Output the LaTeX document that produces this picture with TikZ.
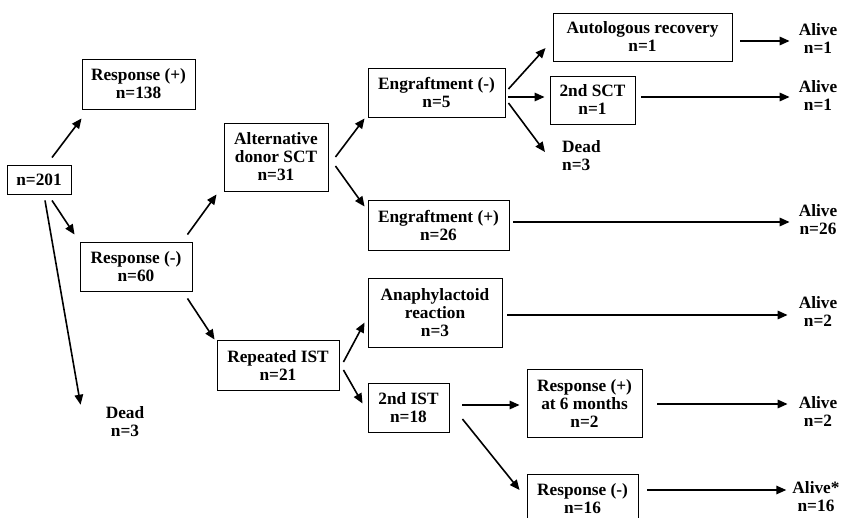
\documentclass[tikz,border=0pt]{standalone}
\usepackage{fontspec}
\setmainfont{Liberation Serif}
\usepackage{tikz}
\usetikzlibrary{arrows.meta,positioning,calc}

\begin{document}
\begin{tikzpicture}[
  x=1pt,y=-1pt,
  font=\fontsize{17.3}{18}\selectfont\bfseries,
  box/.style={draw,line width=0.9pt,align=center,inner sep=2pt},
  lbl/.style={align=center,inner sep=0pt},
  arr/.style={-{Triangle[length=10pt,width=8.5pt]},line width=1.6pt},
]
\useasboundingbox (0,0) rectangle (842,518);

% start
\node[box,minimum width=64pt,minimum height=29pt] (n201) at (39,179.5) {n=201};

% first IST
\node[box,minimum width=113pt,minimum height=50pt] (resppos) at (138.5,84) {Response (+)\\n=138};
\node[box,minimum width=112pt,minimum height=49pt] (respneg) at (136,266.5) {Response (-)\\n=60};
\node[lbl] (dead1) at (125,422) {Dead\\n=3};

% alternative donor SCT branch
\node[box,minimum width=104pt,minimum height=68pt] (altdonor) at (276,157) {Alternative\\donor SCT\\n=31};
\node[box,minimum width=137pt,minimum height=49pt] (engneg) at (436.5,92.5) {Engraftment (-)\\n=5};
\node[box,minimum width=141pt,minimum height=50pt] (engpos) at (438.5,225) {Engraftment (+)\\n=26};
\node[box,minimum width=179pt,minimum height=48pt] (autol) at (642.5,37) {Autologous recovery\\n=1};
\node[box,minimum width=85pt,minimum height=48pt] (sct2) at (592.5,100) {2nd SCT\\n=1};
\node[lbl,align=left,anchor=west] (dead2) at (562,156) {Dead\\n=3};

% repeated IST branch
\node[box,minimum width=122pt,minimum height=50pt] (repist) at (278,365) {Repeated IST\\n=21};
\node[box,minimum width=134pt,minimum height=69pt] (anaph) at (435,312.5) {Anaphylactoid\\reaction\\n=3};
\node[box,minimum width=81pt,minimum height=49pt] (ist2) at (408.5,407.5) {2nd IST\\n=18};
\node[box,minimum width=115pt,minimum height=68pt] (resp6) at (584.5,403) {Response (+)\\at 6 months\\n=2};
\node[box,minimum width=111pt,minimum height=50pt] (resp16) at (582.5,499) {Response (-)\\n=16};

% outcomes
\node[lbl] (alive1) at (818,39) {Alive\\n=1};
\node[lbl] (alive2) at (818,95.5) {Alive\\n=1};
\node[lbl] (alive3) at (818,220) {Alive\\n=26};
\node[lbl] (alive4) at (818,311) {Alive\\n=2};
\node[lbl] (alive5) at (818,411) {Alive\\n=2};
\node[lbl] (alive6) at (816,496.5) {Alive*\\n=16};

% arrows
\draw[arr] ([xshift=13pt,yshift=7pt]n201.north) -- ([yshift=-9pt]resppos.south west);
\draw[arr] ([xshift=13pt,yshift=-6pt]n201.south) -- ([xshift=-5pt,yshift=7pt]respneg.north west);
\draw[arr] ([xshift=6pt,yshift=-6pt]n201.south) -- ([xshift=-25pt,yshift=2pt]dead1.north west);

\draw[arr] ([xshift=-5pt,yshift=7pt]respneg.north east) -- ([xshift=-7pt,yshift=-3pt]altdonor.south west);
\draw[arr] ([xshift=-5pt,yshift=-7pt]respneg.south east) -- ([xshift=-2pt]repist.north west);

\draw[arr] ([xshift=7pt]altdonor.east) -- ([xshift=-3pt,yshift=-1pt]engneg.south west);
\draw[arr] ([xshift=7pt,yshift=-9pt]altdonor.east) -- ([xshift=-3pt,yshift=-7pt]engpos.north west);

\draw[arr] ([xshift=3pt,yshift=3.5pt]engneg.east) -- ([xshift=-7pt,yshift=-11pt]autol.west);
\draw[arr] ([xshift=3pt,yshift=-4.5pt]engneg.east) -- ([xshift=-5pt,yshift=3pt]sct2.west);
\draw[arr] ([xshift=3pt,yshift=-10.5pt]engneg.east) -- ([xshift=-17pt,yshift=4pt]dead2.west);

\draw[arr,shorten >=9pt] ([xshift=8pt,yshift=-4pt]autol.east) -- ([yshift=-4pt]autol.east -| alive1.west);
\draw[arr,shorten >=9pt] ([xshift=6pt,yshift=3pt]sct2.east) -- ([yshift=3pt]sct2.east -| alive2.west);
\draw[arr,shorten >=9pt] ([xshift=4pt,yshift=3pt]engpos.east) -- ([yshift=3pt]engpos.east -| alive3.west);

\draw[arr] ([xshift=4pt,yshift=3pt]repist.east) -- ([xshift=-3pt,yshift=-10pt]anaph.west);
\draw[arr] ([xshift=4pt,yshift=-5pt]repist.east) -- ([xshift=-5pt,yshift=4pt]ist2.west);

\draw[arr,shorten >=11pt] ([xshift=5pt,yshift=-2.5pt]anaph.east) -- ([yshift=-2.5pt]anaph.east -| alive4.west);
\draw[arr] ([xshift=13pt,yshift=2.5pt]ist2.east) -- ([xshift=-7pt,yshift=2.5pt]ist2.east -| resp6.west);
\draw[arr] ([xshift=13pt,yshift=-11.5pt]ist2.east) -- ([xshift=-7pt,yshift=9pt]resp16.west);
\draw[arr,shorten >=11pt] ([xshift=15pt,yshift=-1pt]resp6.east) -- ([yshift=-1pt]resp6.east -| alive5.west);
\draw[arr,shorten >=6pt] ([xshift=9pt,yshift=9pt]resp16.east) -- ([yshift=9pt]resp16.east -| alive6.west);

\end{tikzpicture}
\end{document}
